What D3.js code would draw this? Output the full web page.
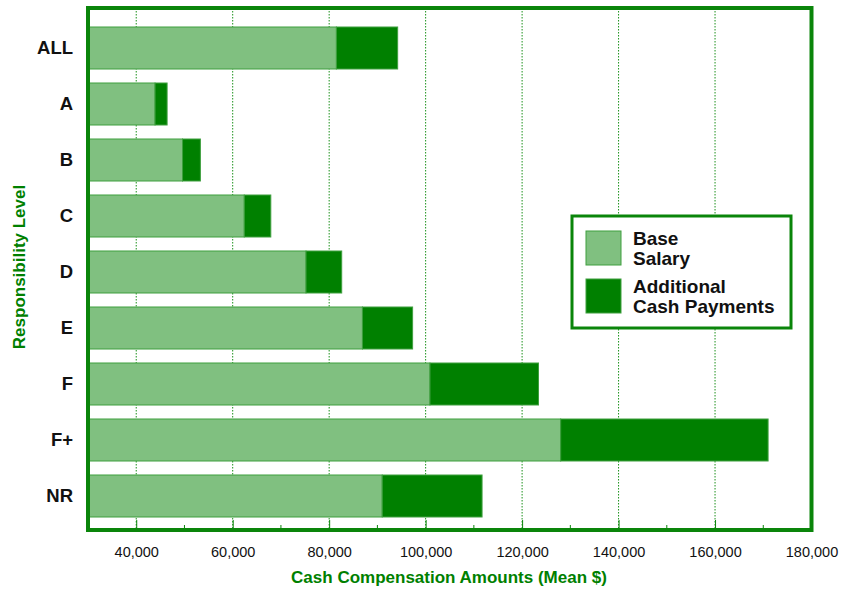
<!DOCTYPE html>
<html>
<head>
<meta charset="utf-8">
<script src="https://cdn.jsdelivr.net/npm/d3@7"></script>
<style>
  html, body { margin: 0; padding: 0; background: #fff; }
  svg { display: block; font-family: "Liberation Sans", Arial, sans-serif; }
</style>
</head>
<body>
<svg id="chart" width="847" height="589"></svg>
<script>
// Responsibility levels and mean cash compensation components
const levels = ["ALL", "A", "B", "C", "D", "E", "F", "F+", "NR"];
const baseSalary = [81500, 43900, 49600, 62400, 75200, 86900, 100900, 128000, 91000];
const additionalCash = [12700, 2500, 3700, 5500, 7400, 10400, 22500, 43000, 20700];
const xTicks = [40000, 60000, 80000, 100000, 120000, 140000, 160000, 180000];
const xMinorTicks = [50000, 70000, 90000, 110000, 130000, 150000, 170000];
const legendItems = [
  { lines: ["Base", "Salary"], key: "base" },
  { lines: ["Additional", "Cash Payments"], key: "add" }
];

const colors = { base: "#80c080", add: "#008000", frame: "#0a850a", edge: "#3f9f3f" };

const svg = d3.select("#chart");
const plot = { left: 88, right: 811.5, top: 8, bottom: 530 };

const x = d3.scaleLinear().domain([30000, 180000]).range([plot.left, plot.right]);
const y = d3.scaleBand().domain(levels).range([20, 524]).paddingInner(0.25).paddingOuter(0.125);

// vertical dotted grid lines
svg.append("g")
  .selectAll("line")
  .data(xTicks.filter(d => d < 180000))
  .join("line")
  .attr("x1", d => x(d)).attr("x2", d => x(d))
  .attr("y1", plot.top).attr("y2", plot.bottom)
  .attr("stroke", "#1a901a")
  .attr("stroke-width", 1)
  .attr("stroke-dasharray", "1.5,1.5");

// stacked bars
const rows = levels.map((l, i) => ({ level: l, base: baseSalary[i], add: additionalCash[i] }));
const bars = svg.append("g");
bars.selectAll("rect.base")
  .data(rows)
  .join("rect")
  .attr("class", "base")
  .attr("x", x(30000))
  .attr("y", d => y(d.level))
  .attr("width", d => x(d.base) - x(30000))
  .attr("height", y.bandwidth())
  .attr("fill", colors.base)
  .attr("stroke", colors.edge)
  .attr("stroke-width", 1);
bars.selectAll("rect.add")
  .data(rows)
  .join("rect")
  .attr("class", "add")
  .attr("x", d => x(d.base))
  .attr("y", d => y(d.level))
  .attr("width", d => x(d.base + d.add) - x(d.base))
  .attr("height", y.bandwidth())
  .attr("fill", colors.add)
  .attr("stroke", colors.edge)
  .attr("stroke-width", 1);

// bottom axis: ticks pointing into the plot, labels below the frame
const xAxis = d3.axisBottom(x).tickValues(xTicks).tickSize(-10).tickPadding(17)
  .tickFormat(d3.format(","));
const gx = svg.append("g").attr("transform", `translate(0,${plot.bottom})`).call(xAxis);
gx.select(".domain").remove();
gx.selectAll(".tick line").attr("stroke", colors.frame).attr("stroke-width", 1);
gx.selectAll(".tick text").attr("font-size", 14.5).attr("fill", "#111")
  .attr("font-family", "'Liberation Sans', Arial, sans-serif");

svg.append("g")
  .selectAll("line")
  .data(xMinorTicks)
  .join("line")
  .attr("x1", d => x(d)).attr("x2", d => x(d))
  .attr("y1", plot.bottom).attr("y2", plot.bottom - 5)
  .attr("stroke", colors.frame).attr("stroke-width", 1);

// left axis: category labels only
const yAxis = d3.axisLeft(y).tickSize(0).tickPadding(15);
const gy = svg.append("g").attr("transform", `translate(${plot.left},0)`).call(yAxis);
gy.select(".domain").remove();
gy.selectAll(".tick text").attr("font-size", 18.5).attr("font-weight", "bold").attr("fill", "#111")
  .attr("font-family", "'Liberation Sans', Arial, sans-serif");

// plot frame
svg.append("rect")
  .attr("x", plot.left).attr("y", plot.top)
  .attr("width", plot.right - plot.left).attr("height", plot.bottom - plot.top)
  .attr("fill", "none").attr("stroke", colors.frame).attr("stroke-width", 4);

// axis titles
svg.append("text")
  .attr("x", 449).attr("y", 583)
  .attr("text-anchor", "middle")
  .attr("font-size", 17).attr("font-weight", "bold").attr("fill", colors.add)
  .text("Cash Compensation Amounts (Mean $)");

svg.append("text")
  .attr("transform", "translate(25,267) rotate(-90)")
  .attr("text-anchor", "middle")
  .attr("font-size", 17).attr("font-weight", "bold").attr("fill", colors.add)
  .text("Responsibility Level");

// legend
const legend = svg.append("g");
legend.append("rect")
  .attr("x", 572).attr("y", 216).attr("width", 219).attr("height", 112)
  .attr("fill", "#fff").attr("stroke", colors.frame).attr("stroke-width", 3);
const li = legend.selectAll("g.item")
  .data(legendItems)
  .join("g")
  .attr("class", "item")
  .attr("transform", (d, i) => `translate(586,${231 + i * 48})`);
li.append("rect")
  .attr("width", 35).attr("height", 34)
  .attr("fill", d => colors[d.key])
  .attr("stroke", colors.edge).attr("stroke-width", 1);
li.each(function(d) {
  const t = d3.select(this).append("text")
    .attr("x", 47).attr("y", 14)
    .attr("font-size", 19).attr("font-weight", "bold").attr("fill", "#111");
  d.lines.forEach((ln, k) => t.append("tspan").attr("x", 47).attr("dy", k === 0 ? 0 : 20).text(ln));
});
</script>
</body>
</html>
